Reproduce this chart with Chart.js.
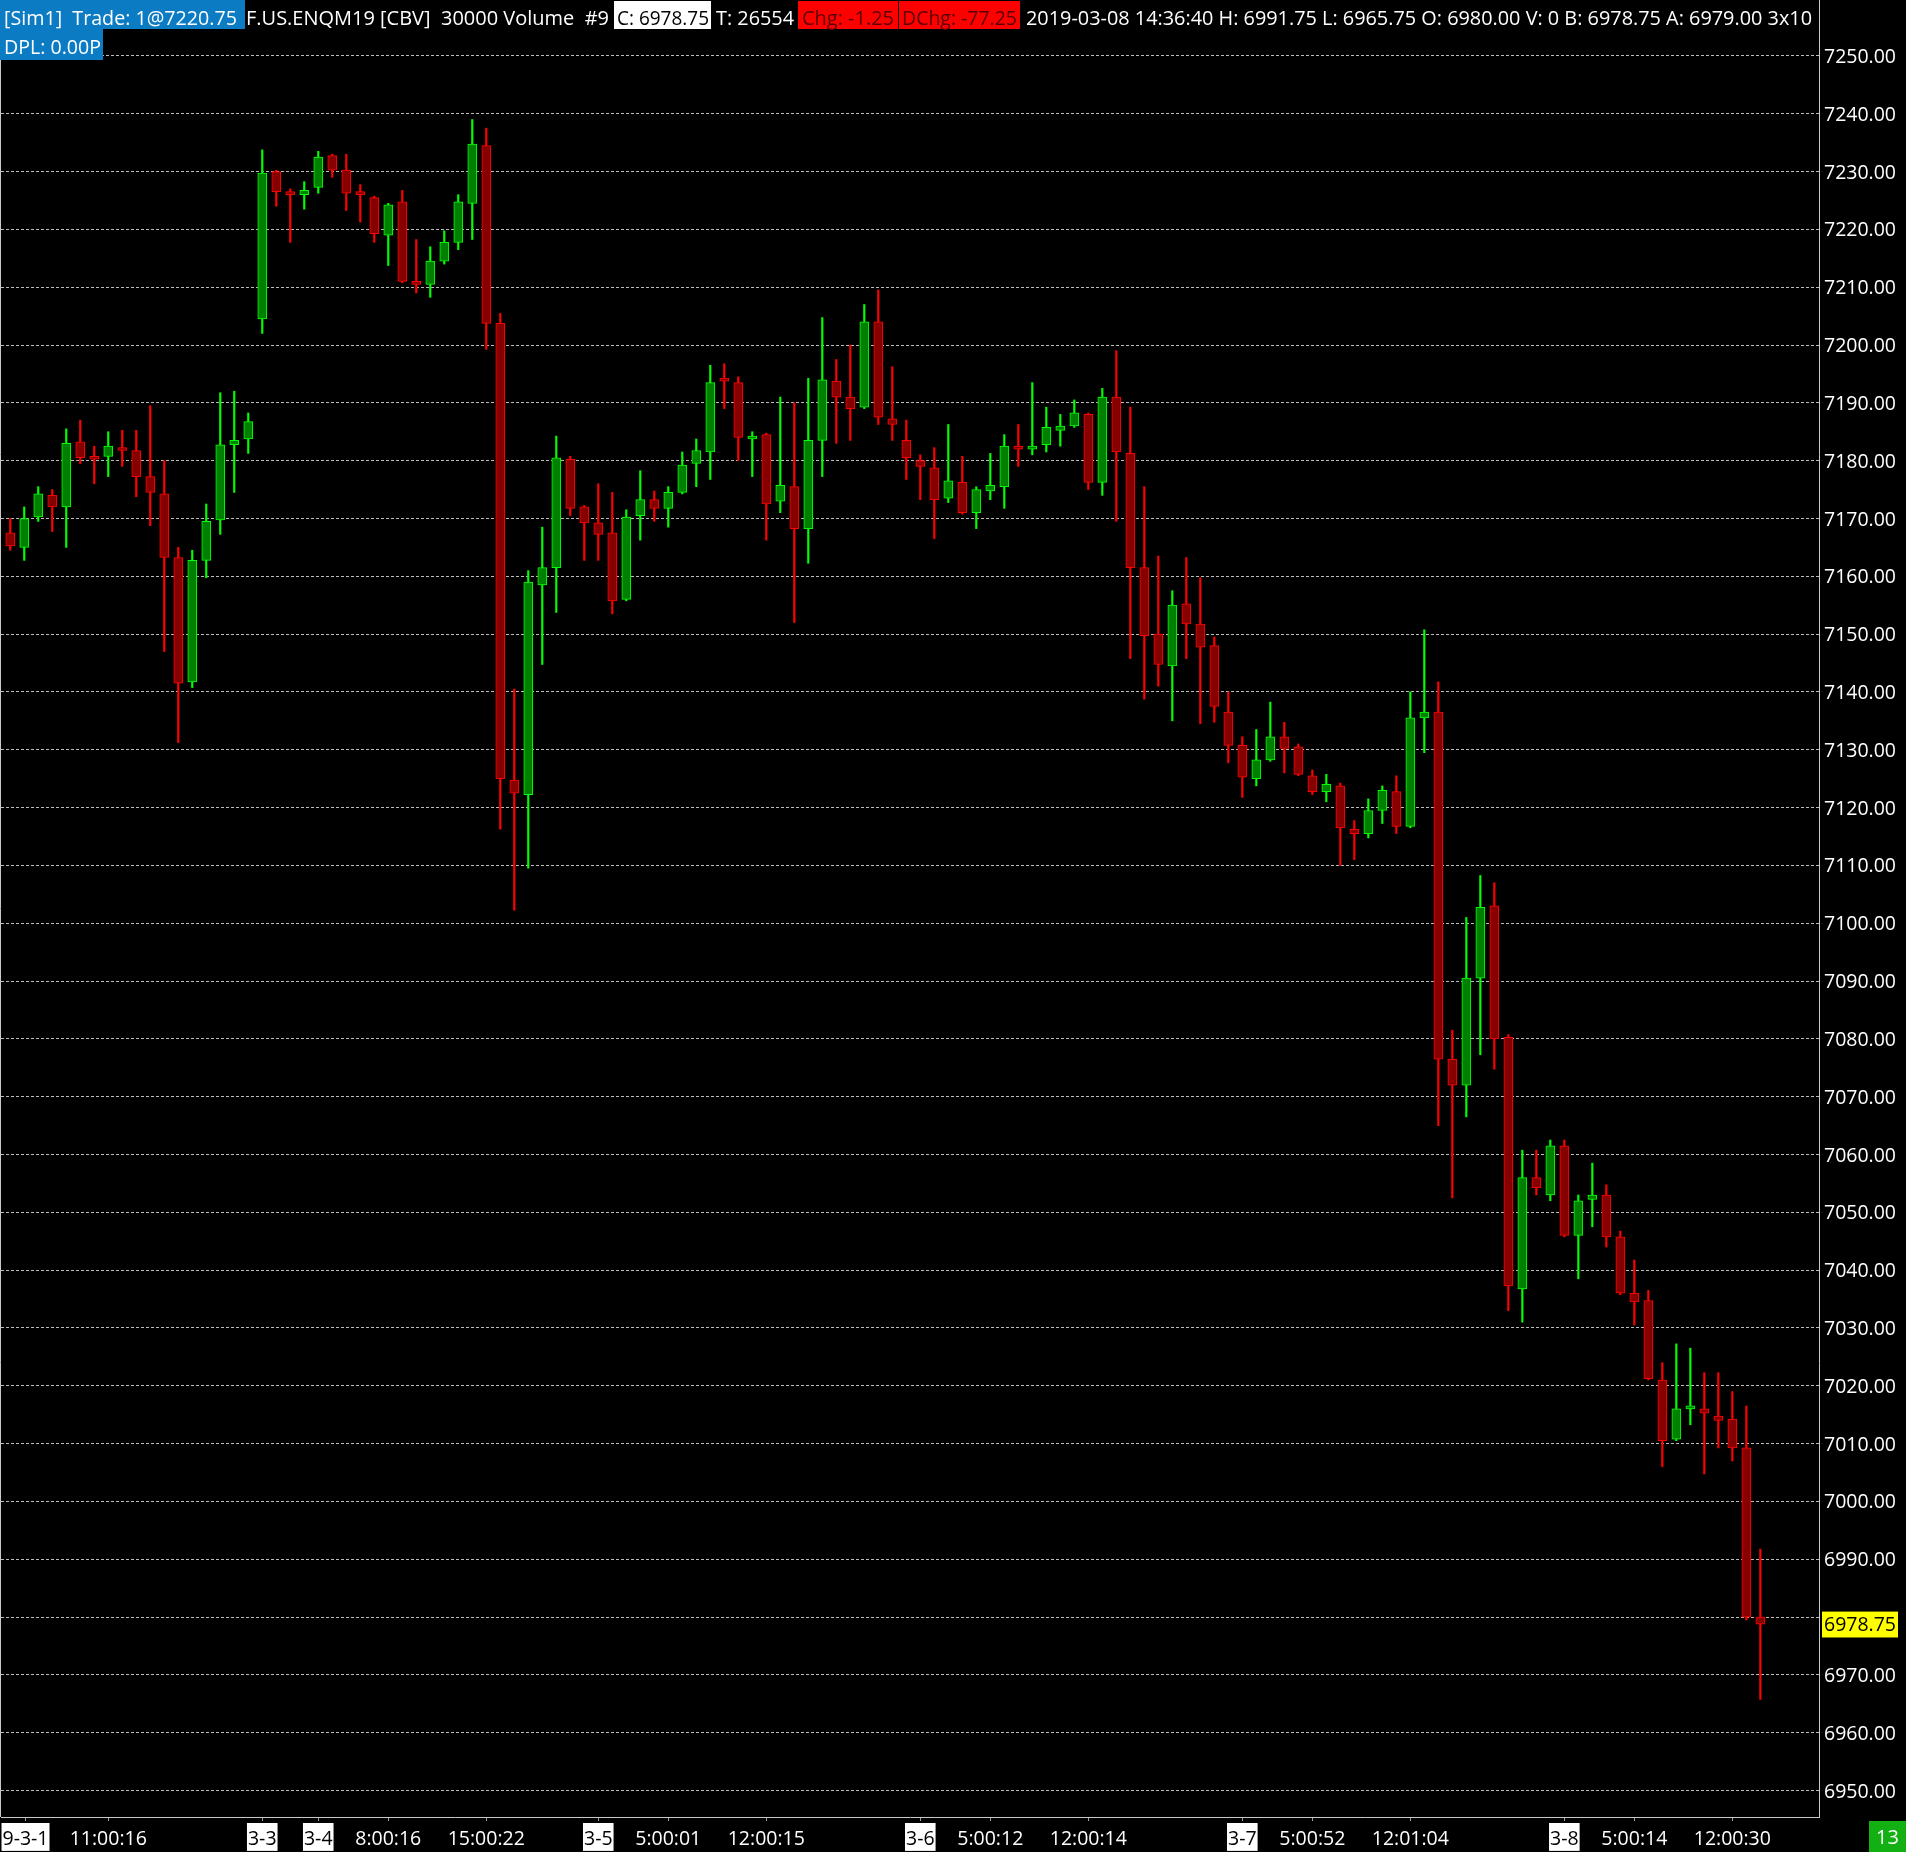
<!DOCTYPE html>
<html>
<head>
<meta charset="utf-8">
<title>F.US.ENQM19 [CBV] 30000 Volume</title>
<script src="https://cdn.jsdelivr.net/npm/chart.js@4.4.1/dist/chart.umd.min.js"></script>
<style>
  body { margin: 0; background: #000; }
  canvas { display: block; }
</style>
</head>
<body>
<canvas id="grafico" width="1906" height="1852"></canvas>
<script>
// one entry per 30000-volume bar
const opens = [
  7167.5, 7165, 7170.25, 7174, 7172, 7183.25, 7180.5, 7180.75, 7182.25, 7181.75,
  7177.25, 7174.25, 7163.25, 7141.75, 7162.75, 7169.75, 7182.75, 7183.75, 7204.5, 7230,
  7226.5, 7226, 7227.25, 7232.75, 7230.25, 7226.25, 7225.5, 7219, 7224.75, 7211,
  7210.5, 7214.5, 7217.75, 7224.5, 7234.5, 7203.75, 7124.75, 7122.25, 7158.5, 7161.5,
  7180.25, 7172, 7169.25, 7167.5, 7156, 7170.5, 7173.25, 7171.75, 7174.5, 7179.5,
  7181.5, 7194, 7193.5, 7183.75, 7184.5, 7173, 7175.5, 7168.25, 7183.5, 7193.75,
  7191, 7189.25, 7204, 7187.25, 7183.5, 7180, 7178.75, 7173.5, 7176.25, 7171,
  7174.75, 7175.5, 7182.5, 7182, 7182.75, 7185.25, 7186, 7188, 7176.25, 7191,
  7181.25, 7161.5, 7150, 7144.5, 7155.25, 7151.75, 7148, 7136.5, 7130.75, 7125,
  7128.25, 7132.25, 7130.5, 7125.5, 7122.75, 7123.75, 7116.25, 7115.5, 7119.5, 7122.75,
  7116.75, 7135.5, 7136.5, 7076.5, 7072, 7090.5, 7103, 7080.25, 7036.75, 7056,
  7053, 7061.5, 7046, 7052.25, 7053, 7045.75, 7036, 7034.75, 7021, 7010.75,
  7016, 7016, 7014.75, 7014.25, 7009.25, 6980
];
const highs = [
  7170, 7172, 7175.5, 7175, 7185.5, 7187, 7182.5, 7185, 7185.25, 7185.25,
  7189.5, 7180, 7165, 7164.5, 7172.5, 7191.75, 7192, 7188.25, 7233.75, 7230.25,
  7227, 7228.25, 7233.5, 7233, 7233, 7227.75, 7225.75, 7224.5, 7226.75, 7218.25,
  7217, 7219.75, 7226, 7239, 7237.5, 7205.5, 7140.5, 7161, 7168.5, 7184.25,
  7180.75, 7172.25, 7176, 7174.5, 7171.5, 7178.25, 7174.75, 7175.5, 7181.5, 7183.75,
  7196.5, 7196.75, 7194.5, 7185, 7184.75, 7191, 7190, 7194.25, 7204.75, 7197.5,
  7200, 7207, 7209.5, 7196.25, 7187, 7181, 7182.25, 7186.25, 7180.75, 7175.5,
  7181.25, 7184.5, 7186.25, 7193.5, 7189.25, 7188, 7190.5, 7188.25, 7192.5, 7199,
  7189.25, 7175.5, 7163.5, 7157.5, 7163.25, 7159.75, 7149.5, 7140, 7132.25, 7133.5,
  7138.25, 7134.75, 7131, 7126.5, 7125.75, 7124.25, 7117.75, 7121.5, 7123.75, 7125.5,
  7140, 7150.75, 7141.75, 7081.5, 7101, 7108.25, 7107, 7080.75, 7060.75, 7060.75,
  7062.5, 7062.5, 7053, 7058.5, 7054.75, 7046.75, 7041.75, 7036.5, 7024, 7027.25,
  7026.5, 7022.25, 7022.25, 7019, 7016.5, 6991.75
];
const lows = [
  7164.5, 7162.75, 7169.5, 7167.75, 7165, 7179.5, 7176, 7177.25, 7179, 7173.75,
  7168.75, 7147, 7131.25, 7140.75, 7159.75, 7167.25, 7174.5, 7181.25, 7202, 7224,
  7217.75, 7223.5, 7226.25, 7229, 7223.25, 7221.25, 7217.75, 7213.75, 7210.75, 7209,
  7208.25, 7214, 7216.5, 7218.25, 7199.25, 7116.25, 7102.25, 7109.5, 7144.75, 7153.75,
  7170.5, 7162.75, 7162.75, 7153.5, 7155.75, 7166.25, 7169.5, 7168.5, 7174.25, 7175.5,
  7176.75, 7189, 7180, 7177.25, 7166.25, 7171, 7152, 7162.25, 7177.25, 7183,
  7183.5, 7189, 7186.25, 7183.5, 7176.75, 7173.25, 7166.5, 7172.75, 7170.75, 7168.25,
  7173.25, 7171.75, 7179, 7181, 7181.5, 7182.5, 7185.75, 7175, 7174, 7169.5,
  7145.75, 7138.75, 7141, 7135, 7145.75, 7134.5, 7134.75, 7127.75, 7121.75, 7123.75,
  7128, 7126, 7125.5, 7122.25, 7121, 7110, 7111, 7114.75, 7117.25, 7115.5,
  7116.5, 7129.5, 7065, 7052.5, 7066.5, 7077.25, 7074.75, 7033, 7031, 7053,
  7052, 7045.75, 7038.5, 7047.5, 7044, 7035.75, 7030.5, 7021, 7006, 7010.5,
  7013.25, 7004.75, 7009.25, 7007, 6979.5, 6965.75
];
const closes = [
  7165.25, 7170, 7174.25, 7172, 7183, 7180.5, 7180.25, 7182.5, 7181.75, 7177.25,
  7174.5, 7163.25, 7141.5, 7162.75, 7169.5, 7182.75, 7183.5, 7186.75, 7229.75, 7226.5,
  7226, 7226.75, 7232.5, 7230.25, 7226.25, 7226, 7219.25, 7224.25, 7211, 7210.5,
  7214.5, 7217.75, 7224.75, 7234.75, 7203.75, 7125, 7122.5, 7159, 7161.5, 7180.5,
  7171.75, 7169.25, 7167.25, 7155.75, 7170.25, 7173.25, 7171.75, 7174.5, 7179.25, 7181.75,
  7193.5, 7193.75, 7184, 7184.25, 7172.5, 7175.75, 7168.25, 7183.5, 7194, 7191,
  7189, 7204, 7187.5, 7186.25, 7180.5, 7179, 7173.25, 7176.5, 7171, 7175,
  7175.75, 7182.5, 7182, 7182.5, 7185.75, 7186, 7188.25, 7176.25, 7191, 7181.5,
  7161.5, 7149.75, 7144.75, 7155, 7151.75, 7147.75, 7137.5, 7130.75, 7125.25, 7128.25,
  7132.25, 7130.25, 7125.75, 7122.75, 7124, 7116.5, 7115.5, 7119.5, 7123, 7116.75,
  7135.5, 7136.5, 7076.5, 7072, 7090.5, 7102.75, 7080, 7037.25, 7056, 7054.25,
  7061.5, 7046, 7052, 7053, 7045.75, 7036, 7034.5, 7021.25, 7010.5, 7016,
  7016.5, 7015.25, 7014, 7009.25, 6980, 6978.75
];

// bottom axis: bar position and text of each label
const xTickPos = [1.09, 7, 18, 22, 27, 34, 42, 47, 54, 65, 70, 77, 88, 93, 100, 111, 116, 123];
const xTickText = ['9-3-1', '11:00:16', '3-3', '3-4', '8:00:16', '15:00:22', '3-5', '5:00:01', '12:00:15',
  '3-6', '5:00:12', '12:00:14', '3-7', '5:00:52', '12:01:04', '3-8', '5:00:14', '12:00:30'];

// price axis
const yTicks = [6950, 6960, 6970, 6980, 6990, 7000, 7010, 7020, 7030, 7040, 7050, 7060, 7070, 7080, 7090,
  7100, 7110, 7120, 7130, 7140, 7150, 7160, 7170, 7180, 7190, 7200, 7210, 7220, 7230, 7240, 7250];
const lastPrice = 6978.75;

const fonte = { family: 'Open Sans', size: 19.5 };
const transparente = 'rgba(0,0,0,0)';

function subiu(i) {
  return closes[i] >= opens[i];
}
function ehData(i) {
  return xTickText[i].indexOf(':') < 0;
}

const corpos = opens.map((o, i) => ({ x: i, y: [o, closes[i]] }));
const pavios = opens.map((o, i) => ({ x: i, y: [lows[i], highs[i]] }));

const cabecalho = {
  id: 'cabecalho',
  afterDraw(chart) {
    const ctx = chart.ctx;
    ctx.save();

    // left edge of the plot
    ctx.strokeStyle = '#c8c8c8';
    ctx.lineWidth = 1;
    ctx.beginPath();
    ctx.moveTo(0.5, 0);
    ctx.lineTo(0.5, chart.chartArea.bottom);
    ctx.stroke();

    ctx.beginPath();
    ctx.rect(0, 0, chart.chartArea.right - 1, 70);
    ctx.clip();

    ctx.font = '20px "Open Sans"';
    ctx.textBaseline = 'alphabetic';
    ctx.textAlign = 'left';

    function caixa(x, y, w, h, cor) {
      ctx.fillStyle = cor;
      ctx.fillRect(x, y, w, h);
    }
    function texto(t, x, y, cor, w) {
      ctx.fillStyle = cor;
      ctx.fillText(t, x, y, w);
    }

    caixa(0, 0, 245, 29, '#0b7bc3');
    texto('[Sim1]  Trade: 1@7220.75', 4, 25, '#ffffff', 233);
    texto('F.US.ENQM19 [CBV]  30000 Volume  #9', 246, 25, '#ffffff', 363);
    caixa(614, 1, 97, 28, '#ffffff');
    texto('C: 6978.75', 617, 25, '#000000', 92);
    texto('T: 26554', 716, 25, '#ffffff', 78);
    caixa(798, 1, 100, 28, '#ff0000');
    texto('Chg: -1.25', 802, 25, '#5a0000', 92);
    caixa(899, 1, 121, 28, '#ff0000');
    texto('DChg: -77.25', 902, 25, '#5a0000', 115);
    texto('2019-03-08 14:36:40 H: 6991.75 L: 6965.75 O: 6980.00 V: 0 B: 6978.75 A: 6979.00 3x10', 1026, 25, '#ffffff', 786);

    caixa(0, 29, 103, 31, '#0b7bc3');
    texto('DPL: 0.00P', 4, 54, '#ffffff', 97);
    ctx.restore();

    // bar counter in the corner
    ctx.save();
    ctx.fillStyle = '#12b012';
    ctx.fillRect(1869, 1821, 37, 31);
    ctx.font = '20px "Open Sans"';
    ctx.fillStyle = '#ffffff';
    ctx.textAlign = 'center';
    ctx.textBaseline = 'alphabetic';
    ctx.fillText('13', 1887.5, 1844);
    ctx.restore();
  }
};

const grafico = document.getElementById('grafico');
new Chart(grafico, {
  type: 'bar',
  data: {
    datasets: [{
      label: 'Corpo',
      data: corpos,
      order: 1,
      grouped: false,
      barThickness: 9,
      minBarLength: 3,
      borderWidth: 1,
      borderSkipped: false,
      backgroundColor: (ctx) => subiu(ctx.dataIndex) ? '#008000' : '#870000',
      borderColor: (ctx) => subiu(ctx.dataIndex) ? '#00ff00' : '#ff0000'
    }, {
      label: 'Pavio',
      data: pavios,
      order: 2,
      grouped: false,
      barThickness: 1.5,
      borderWidth: 0,
      backgroundColor: (ctx) => subiu(ctx.dataIndex) ? '#00ff00' : '#ff0000'
    }]
  },
  options: {
    responsive: false,
    animation: false,
    events: [],
    layout: { padding: { left: 1, top: 0, right: 0, bottom: 0 } },
    plugins: {
      legend: { display: false },
      tooltip: { enabled: false }
    },
    scales: {
      x: {
        type: 'linear',
        min: -0.66,
        max: 129.19,
        offset: false,
        afterBuildTicks: (scale) => {
          scale.ticks = xTickPos.map(v => ({ value: v }));
        },
        afterFit: (scale) => {
          scale.height = 35;
          scale.paddingLeft = 0;
          scale.paddingRight = 0;
        },
        grid: { offset: false, drawOnChartArea: false, drawTicks: true, tickLength: 4, color: '#a0a0a0' },
        border: { display: true, color: '#c8c8c8', width: 1 },
        ticks: {
          autoSkip: false,
          maxRotation: 0,
          minRotation: 0,
          padding: 6.5,
          font: fonte,
          callback: (value, index) => xTickText[index],
          color: (ctx) => ehData(ctx.index) ? '#000000' : '#ffffff',
          showLabelBackdrop: true,
          backdropColor: (ctx) => ehData(ctx.index) ? '#ffffff' : transparente,
          backdropPadding: { top: 4.5, bottom: 0, left: 1, right: 1 }
        }
      },
      y: {
        position: 'right',
        min: 6945.42,
        max: 7259.67,
        afterBuildTicks: (scale) => {
          scale.ticks = yTicks.concat([lastPrice]).map(v => ({ value: v }));
        },
        afterFit: (scale) => {
          scale.width = 87;
          scale.paddingTop = 0;
          scale.paddingBottom = 0;
        },
        grid: {
          drawTicks: false,
          lineWidth: 1,
          color: (ctx) => (ctx.tick && ctx.tick.value === lastPrice) ? transparente : '#bcbcbc'
        },
        border: { display: true, color: '#c8c8c8', width: 1, dash: [3, 2] },
        ticks: {
          autoSkip: false,
          padding: 5,
          labelOffset: 1.5,
          font: fonte,
          callback: (value) => value === 6980 ? '' : value.toFixed(2),
          color: (ctx) => ctx.tick.value === lastPrice ? '#000000' : '#ffffff',
          showLabelBackdrop: true,
          backdropColor: (ctx) => ctx.tick.value === lastPrice ? '#ffff00' : transparente,
          backdropPadding: { top: 2.5, bottom: 0, left: 2, right: 2 }
        }
      }
    }
  },
  plugins: [cabecalho]
});
</script>
</body>
</html>
